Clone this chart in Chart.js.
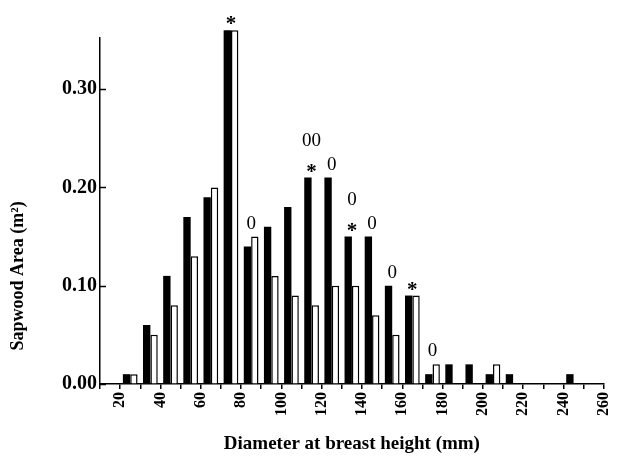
<!DOCTYPE html>
<html><head><meta charset="utf-8">
<script src="https://cdn.jsdelivr.net/npm/chart.js@4/dist/chart.umd.min.js"></script>
<style>html,body{margin:0;padding:0;background:#fff}</style>
</head><body>
<canvas id="c" width="626" height="456"></canvas>
<script>
// ---- data ----
const diameters = [25,35,45,55,65,75,85,95,105,115,125,135,145,155,165,175,185,195,205,215,245];
const blackBars = [0.01,0.06,0.11,0.17,0.19,0.36,0.14,0.16,0.18,0.21,0.21,0.15,0.15,0.10,0.09,0.01,0.02,0.02,0.01,0.01,0.01];
const whiteBars = [0.01,0.05,0.08,0.13,0.20,0.36,0.15,0.11,0.09,0.08,0.10,0.10,0.07,0.05,0.09,0.02,null,null,0.02,null,null];
const xTickValues = [20,40,60,80,100,120,140,160,180,200,220,240,260];
const yTickValues = [0, 0.1, 0.2, 0.3];
const annotationCats  = [75, 85, 115, 125, 135, 145, 155, 165, 175];
const annotationMarks = [['*'], ['0'], ['*','00'], ['0'], ['*','0'], ['0'], ['0'], ['*'], ['0']];
const yTitle = 'Sapwood Area (m²)';

const serif = "'Liberation Serif', 'Times New Roman', serif";

const toPoints = arr => diameters.map((d, i) => ({x: d, y: arr[i]}));

const inwardYTicks = {
  id: 'inwardYTicks',
  afterDraw(chart) {
    const {ctx, scales: {x, y}} = chart;
    ctx.save();
    ctx.strokeStyle = '#000';
    ctx.lineWidth = 1.5;
    yTickValues.forEach(v => {
      const py = Math.round(y.getPixelForValue(v)) + 0.5;
      ctx.beginPath();
      ctx.moveTo(x.left, py);
      ctx.lineTo(x.left + 6, py);
      ctx.stroke();
    });
    // y axis title, placed lower along the axis as in the reference
    ctx.translate(18, y.getPixelForValue(0.11));
    ctx.rotate(-Math.PI / 2);
    ctx.font = `bold 18px ${serif}`;
    ctx.fillStyle = '#000';
    ctx.textAlign = 'center';
    ctx.textBaseline = 'middle';
    ctx.fillText(yTitle, 0, 0);
    ctx.restore();
  }
};

const markLabels = {
  id: 'markLabels',
  afterDatasetsDraw(chart) {
    const {ctx, scales: {x, y}} = chart;
    ctx.save();
    ctx.fillStyle = '#000';
    ctx.textAlign = 'center';
    ctx.textBaseline = 'alphabetic';
    annotationCats.forEach((cat, i) => {
      const idx = diameters.indexOf(cat);
      const top = Math.max(blackBars[idx] || 0, whiteBars[idx] || 0);
      const px = x.getPixelForValue(cat);
      const py = y.getPixelForValue(top);
      annotationMarks[i].forEach((m, j) => {
        const star = m === '*';
        ctx.font = star ? `bold 21px ${serif}` : `19px ${serif}`;
        const off = star ? 0 : 8;
        ctx.fillText(m, px, py - off - j * 24);
      });
    });
    ctx.restore();
  }
};

new Chart(document.getElementById('c'), {
  type: 'bar',
  data: {
    datasets: [
      {data: toPoints(blackBars), backgroundColor: '#000', borderWidth: 0, clip: false},
      {data: toPoints(whiteBars), backgroundColor: '#fff', borderColor: '#000', borderWidth: 1.5, clip: false}
    ]
  },
  options: {
    responsive: false,
    animation: false,
    devicePixelRatio: 1,
    layout: {padding: {top: 38, right: 2, bottom: 0, left: 0}},
    plugins: {legend: {display: false}, tooltip: {enabled: false}},
    datasets: {bar: {categoryPercentage: 0.73, barPercentage: 1.0}},
    scales: {
      x: {
        type: 'linear',
        min: 10, max: 260,
        offset: false,
        grid: {offset: false, display: true, drawOnChartArea: false, drawTicks: true, tickLength: 5, color: '#000', lineWidth: 1.5},
        border: {display: true, color: '#000', width: 1.5},
        ticks: {
          stepSize: 10,
          autoSkip: false,
          maxRotation: 90, minRotation: 90,
          padding: 3,
          color: '#000',
          font: {family: serif, size: 16, weight: 'bold'},
          callback: v => xTickValues.includes(v) ? String(v) : ''
        },
        title: {display: true, text: 'Diameter at breast height (mm)', color: '#000',
          font: {family: serif, size: 19, weight: 'bold'}, padding: {top: 0, bottom: 1}},
        afterFit: s => { s.height = 72; }
      },
      y: {
        min: 0, max: 0.352,
        grid: {display: true, drawOnChartArea: false, drawTicks: false, color: '#000'},
        border: {display: true, color: '#000', width: 1.5},
        ticks: {
          stepSize: 0.1,
          includeBounds: false,
          padding: 3,
          color: '#000',
          font: {family: serif, size: 20, weight: 'bold'},
          callback: v => yTickValues.some(t => Math.abs(t - v) < 1e-9) ? v.toFixed(2) : ''
        },
        title: {display: false},
        afterFit: s => { s.width = 100; }
      }
    }
  },
  plugins: [inwardYTicks, markLabels]
});
</script>
</body></html>
